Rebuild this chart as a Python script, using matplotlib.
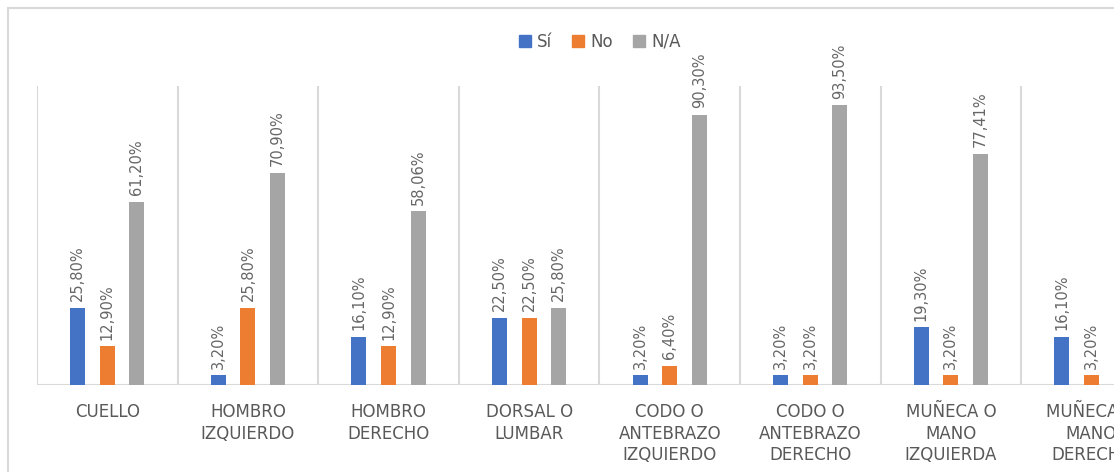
import numpy as np
import matplotlib.pyplot as plt
from matplotlib.patches import Patch, Rectangle

# Datos
categorias = ['CUELLO', 'HOMBRO\nIZQUIERDO', 'HOMBRO\nDERECHO', 'DORSAL O\nLUMBAR',
              'CODO O\nANTEBRAZO\nIZQUIERDO', 'CODO O\nANTEBRAZO\nDERECHO',
              'MUÑECA O\nMANO\nIZQUIERDA', 'MUÑECA O\nMANO\nDERECHA']
si = [25.80, 3.20, 16.10, 22.50, 3.20, 3.20, 19.30, 16.10]
no = [12.90, 25.80, 12.90, 22.50, 6.40, 3.20, 3.20, 3.20]
na = [61.20, 70.90, 58.06, 25.80, 90.30, 93.50, 77.41, 80.70]
series = [('Sí', si, '#4472C4'), ('No', no, '#ED7D31'), ('N/A', na, '#A5A5A5')]

W, H = 1114, 472
fig = plt.figure(figsize=(W / 100, H / 100), dpi=100)

# marco exterior (el gráfico está recortado a la derecha y abajo)
fig.patches.append(Rectangle((8 / W, -0.1), 2, 1 - 8 / H + 0.1, transform=fig.transFigure,
                             fill=False, edgecolor='#d9d9d9', linewidth=1.5))

# 9 grupos, el gráfico original continúa fuera de la imagen
ax = fig.add_axes([37 / W, 87 / H, 9 * 140.6 / W, 299 / H])
ax.set_xlim(-0.5, 8.5)
ax.set_ylim(0, 100)

x = np.arange(len(categorias))
ancho = 0.107
desp = 0.21
gris = '#595959'
for i, (nombre, vals, color) in enumerate(series):
    pos = x + (i - 1) * desp
    ax.bar(pos, vals, width=ancho, color=color, zorder=3)
    for px, v in zip(pos, vals):
        ax.text(px, v + 2.2, f'{v:.2f}%'.replace('.', ','), rotation=90,
                ha='center', va='bottom', fontsize=10.5, color='#666666')

ax.vlines(np.arange(len(categorias) + 2) - 0.5, 0, 100, color='#d9d9d9', linewidth=1.5)
ax.axhline(0, color='#d9d9d9', linewidth=1.5)

for s in ax.spines.values():
    s.set_visible(False)
ax.set_yticks([])
ax.set_xticks(x)
ax.set_xticklabels(categorias, fontsize=12, color=gris, linespacing=1.25)
ax.tick_params(axis='x', length=0, pad=13)

handles = [Patch(color=c, label=n) for n, _, c in series]
fig.legend(handles=handles, loc='center', bbox_to_anchor=(600 / W, 1 - 42 / H), ncol=3,
           frameon=False, fontsize=12, handlelength=0.7, handleheight=0.7,
           handletextpad=0.4, columnspacing=1.2, labelcolor=gris)

fig.savefig('out.png', dpi=100)
